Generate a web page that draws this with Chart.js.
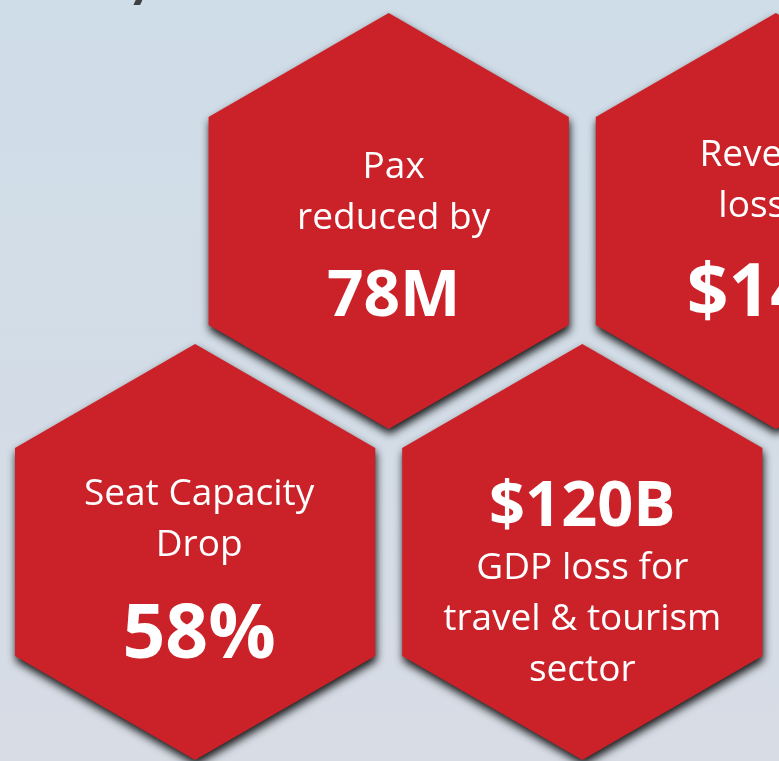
<!DOCTYPE html>
<html>
<head>
<meta charset="utf-8">
<script src="https://cdn.jsdelivr.net/npm/chart.js@4.4.1/dist/chart.umd.min.js"></script>
<style>
    html, body { margin: 0; padding: 0; background: #d3dde7; overflow: hidden; }
    .chartBox { width: 779px; height: 761px; position: relative; }
</style>
</head>
<body>
<div class="chartBox"><canvas id="impactChart"></canvas></div>
<script>
// text of each tile
const metricLabels = [
    ['Pax', 'reduced by'],
    ['Revenue', 'loss of'],
    ['Seat Capacity', 'Drop'],
    ['GDP loss for', 'travel & tourism', 'sector']
];
const metricFigures = ['78M', '$14B', '58%', '$120B'];

// slot of each tile in the hex grid (column, row)
const slotCol = [1, 2, 0.5, 1.5];
const slotRow = [0, 0, 1, 1];

// styling
const figureOnTop = [false, false, false, true];
const figureSize = [64, 73, 75, 63];
const textNudge = [[5, 3], [-2, -9], [4, -1], [0, 1]];
const HEX_RADIUS = 208;
const HEX_RED = '#cb2229';

const backdrop = {
    id: 'backdrop',
    beforeDraw(chart) {
        const { ctx, width, height } = chart;
        const grad = ctx.createLinearGradient(0, 0, 0, height);
        grad.addColorStop(0, '#cfdde8');
        grad.addColorStop(1, '#d7dce5');
        ctx.save();
        ctx.fillStyle = grad;
        ctx.fillRect(0, 0, width, height);
        // bottom of the heading that is cut off above
        ctx.fillStyle = '#404040';
        ctx.font = '700 56px Lato';
        ctx.textAlign = 'left';
        ctx.fillText('y', 127, -4);
        ctx.restore();
    }
};

const hexPath = (ctx, cx, cy, r) => {
    ctx.beginPath();
    for (let k = 0; k < 6; k++) {
        const a = Math.PI / 180 * (60 * k - 90);
        const px = cx + r * Math.cos(a);
        const py = cy + r * Math.sin(a);
        if (k === 0) ctx.moveTo(px, py); else ctx.lineTo(px, py);
    }
    ctx.closePath();
};

const hexTiles = {
    id: 'hexTiles',
    afterDatasetsDraw(chart) {
        const { ctx } = chart;
        const points = chart.getDatasetMeta(0).data;

        points.forEach(pt => {
            ctx.save();
            hexPath(ctx, pt.x, pt.y, HEX_RADIUS);
            ctx.shadowColor = 'rgba(0, 0, 0, 0.9)';
            ctx.shadowBlur = 8;
            ctx.shadowOffsetX = 1;
            ctx.shadowOffsetY = 5;
            ctx.fillStyle = HEX_RED;
            ctx.fill();
            ctx.restore();
        });

        points.forEach((pt, i) => {
            const tx = pt.x + textNudge[i][0];
            const ty = pt.y + textNudge[i][1];
            const regular = '37px "Open Sans"';
            const bold = `700 ${figureSize[i]}px "Open Sans"`;
            ctx.save();
            ctx.fillStyle = '#ffffff';
            ctx.textAlign = 'center';
            ctx.textBaseline = 'alphabetic';
            if (figureOnTop[i]) {
                let base = ty - 27;
                ctx.font = bold;
                ctx.fillText(metricFigures[i], tx, base);
                base += 53;
                ctx.font = regular;
                metricLabels[i].forEach(line => {
                    ctx.fillText(line, tx, base);
                    base += 51;
                });
            } else {
                let base = ty - 46;
                ctx.font = regular;
                metricLabels[i].forEach((line, n) => {
                    if (n) base += 51;
                    ctx.fillText(line, tx, base);
                });
                base += figureSize[i] * 1.36;
                ctx.font = bold;
                ctx.fillText(metricFigures[i], tx, base);
            }
            ctx.restore();
        });
    }
};

new Chart(document.getElementById('impactChart'), {
    type: 'scatter',
    data: {
        datasets: [{
            label: 'Impact',
            data: slotCol.map((c, i) => ({ x: c, y: slotRow[i] })),
            pointRadius: 0,
            pointHoverRadius: 0
        }]
    },
    options: {
        responsive: true,
        maintainAspectRatio: false,
        animation: false,
        events: [],
        layout: { padding: 0 },
        scales: {
            x: { type: 'linear', display: false, min: -0.00387, max: 2.00801 },
            y: { type: 'linear', display: false, reverse: true, min: -0.6677, max: 1.6314 }
        },
        plugins: {
            legend: { display: false },
            tooltip: { enabled: false }
        }
    },
    plugins: [backdrop, hexTiles]
});
</script>
</body>
</html>
